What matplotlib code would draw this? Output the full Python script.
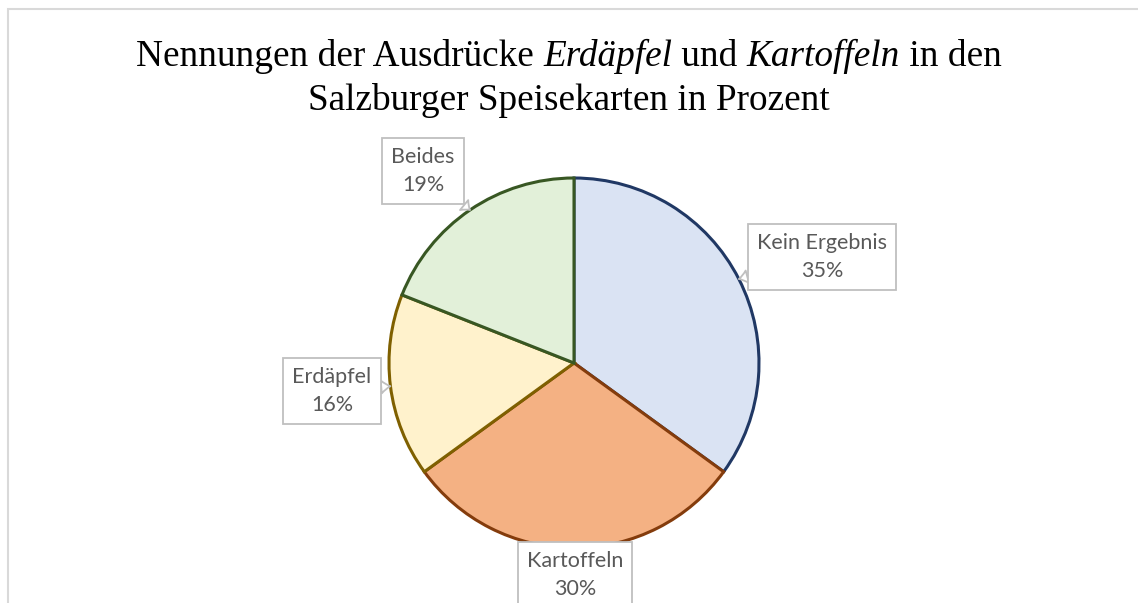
import matplotlib
matplotlib.use("Agg")
import matplotlib.pyplot as plt
import numpy as np
from matplotlib.patches import Rectangle

# chart data
categories = ["Kein Ergebnis", "Kartoffeln", "Erdäpfel", "Beides"]
shares = [35, 30, 16, 19]
fill_colors = ["#DAE3F3", "#F4B183", "#FFF2CC", "#E2F0D9"]
edge_colors = ["#203864", "#843C0C", "#7F6000", "#385723"]

# label box centres in pixel coords (top-left origin)
label_pos = [(822, 257), (575, 575), (332, 391), (423, 171)]

title_lines = [
    [("Nennungen der Ausdrücke ", "normal"), ("Erdäpfel", "italic"),
     (" und ", "normal"), ("Kartoffeln", "italic"), (" in den", "normal")],
    [("Salzburger Speisekarten in Prozent", "normal")],
]

W, H = 1138, 603
fig = plt.figure(figsize=(W / 100, H / 100), dpi=100)
ax = fig.add_axes([0, 0, 1, 1])

cx, cy, r = 574, H - 363, 185
wedges, _ = ax.pie(shares, colors=fill_colors, startangle=90, counterclock=False,
                   center=(cx, cy), radius=r, frame=True,
                   wedgeprops=dict(linewidth=2.2))
for w, ec in zip(wedges, edge_colors):
    w.set_edgecolor(ec)
ax.set_xlim(0, W)
ax.set_ylim(0, H)
ax.set_aspect("equal")
ax.axis("off")

# chart frame (only left and top edges visible in crop)
ax.add_patch(Rectangle((8, -20), W + 50, H - 9 + 20, fill=False,
                       edgecolor="#D9D9D9", linewidth=1.5, clip_on=False))

for w, name, val, (lx, ly) in zip(wedges, categories, shares, label_pos):
    mid = np.deg2rad((w.theta1 + w.theta2) / 2)
    tip = (cx + r * np.cos(mid), cy + r * np.sin(mid))
    ax.annotate(f"{name}\n{val}%", xy=tip, xytext=(lx, H - ly),
                ha="center", va="center", fontsize=15.5, color="#595959",
                family="Lato", linespacing=1.55,
                bbox=dict(boxstyle="square,pad=0.42", fc="white",
                          ec="#BFBFBF", lw=1.3),
                arrowprops=dict(arrowstyle="wedge,tail_width=0.6,shrink_factor=0.4",
                                fc="white", ec="#BFBFBF", lw=1.3,
                                shrinkA=0, shrinkB=0),
                zorder=5)

# title with italic words, laid out piece by piece
fig.canvas.draw()
renderer = fig.canvas.get_renderer()
baselines = [H - 66, H - 110]
for parts, base in zip(title_lines, baselines):
    texts = []
    for s, style in parts:
        t = ax.text(0, base, s, fontsize=26.8, family="Liberation Serif",
                    style=style, ha="left", va="baseline", color="black")
        texts.append(t)
    widths = [t.get_window_extent(renderer).width for t in texts]
    x = W / 2 - sum(widths) / 2
    for t, wd in zip(texts, widths):
        t.set_x(x)
        x += wd

fig.savefig("out.png", dpi=100)
